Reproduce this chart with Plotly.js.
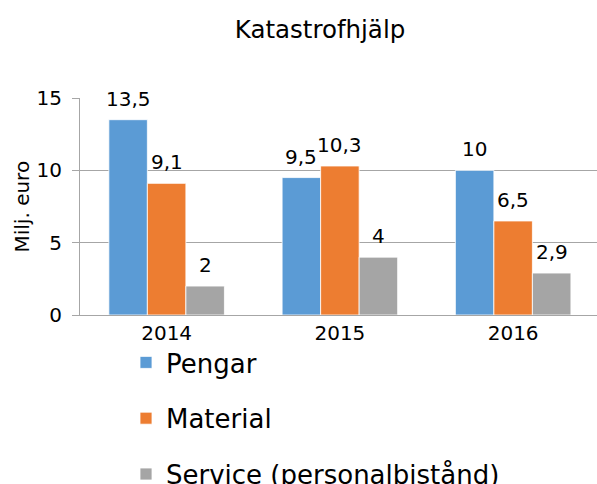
<!DOCTYPE html>
<html>
<head>
<meta charset="utf-8">
<script src="https://cdn.plot.ly/plotly-3.0.1.min.js"></script>
<style>html,body{margin:0;padding:0;overflow:hidden;background:#fff;}</style>
</head>
<body>
<div id="chart" style="width:597px;height:484px;"></div>
<script>
var years = ["2014", "2015", "2016"];
var seriesNames = ["Pengar", "Material", "Service (personalbistånd)"];
var pengar = [13.5, 9.5, 10];
var material = [9.1, 10.3, 6.5];
var service = [2, 4, 2.9];
var colors = ["#5B9BD5", "#ED7D31", "#A5A5A5"];
var yTitle = "Milj. euro";

var allValues = [pengar, material, service];
var FONT = "DejaVu Sans, Verdana, sans-serif";
var bargap = 0.333;
var barW = (1 - bargap) / allValues.length;

var traces = allValues.map(function (vals, i) {
  return {
    type: "bar",
    name: seriesNames[i],
    x: years,
    y: vals,
    legendgroup: "g" + i,
    marker: { color: colors[i], line: { color: "#ffffff", width: 0.8 } },
    hoverinfo: "none"
  };
});

var annotations = [];
allValues.forEach(function (vals, i) {
  vals.forEach(function (v, j) {
    annotations.push({
      x: j + (i - 1) * barW,
      y: v,
      xref: "x",
      yref: "y",
      text: String(v).replace(".", ","),
      showarrow: false,
      yanchor: "bottom",
      yshift: 7,
      font: { family: FONT, size: 20, color: "#000" }
    });
  });
});
annotations.push({
  text: yTitle,
  xref: "paper",
  yref: "paper",
  x: 0,
  y: 0.5,
  xanchor: "center",
  yanchor: "middle",
  xshift: -59,
  textangle: -90,
  showarrow: false,
  font: { family: FONT, size: 20, color: "#000" }
});

var layout = {
  width: 597,
  height: 484,
  margin: { l: 80, r: 0, t: 98, b: 169, autoexpand: false },
  paper_bgcolor: "#fff",
  plot_bgcolor: "#fff",
  font: { family: FONT, size: 20, color: "#000" },
  title: {
    text: "Katastrofhjälp",
    font: { family: FONT, size: 24.5, color: "#000" },
    x: 320 / 597,
    xref: "container",
    xanchor: "center",
    y: 1 - 29 / 484,
    yref: "container",
    yanchor: "middle"
  },
  barmode: "group",
  bargap: bargap,
  bargroupgap: 0,
  showlegend: true,
  legend: {
    orientation: "v",
    traceorder: "grouped",
    tracegroupgap: 19,
    x: 126 / 597,
    xref: "container",
    xanchor: "left",
    y: 1 - 339 / 484,
    yref: "container",
    yanchor: "top",
    font: { family: FONT, size: 26, color: "#000" },
    bgcolor: "rgba(0,0,0,0)"
  },
  xaxis: {
    type: "category",
    range: [-0.5, 2.484],
    showline: true,
    linecolor: "#a6a6a6",
    linewidth: 1,
    ticks: "",
    tickangle: 0,
    showgrid: false,
    tickfont: { family: FONT, size: 20, color: "#000" },
    fixedrange: true
  },
  yaxis: {
    range: [0, 15],
    dtick: 5,
    tick0: 0,
    showgrid: true,
    gridcolor: "#a6a6a6",
    gridwidth: 1,
    zeroline: false,
    showline: true,
    linecolor: "#a6a6a6",
    linewidth: 1,
    ticks: "outside",
    ticklen: 7,
    tickcolor: "#a6a6a6",
    tickfont: { family: FONT, size: 20, color: "#000" },
    ticklabelstandoff: 6,
    fixedrange: true
  },
  annotations: annotations
};

Plotly.newPlot("chart", traces, layout, { displayModeBar: false, staticPlot: true });
</script>
</body>
</html>
